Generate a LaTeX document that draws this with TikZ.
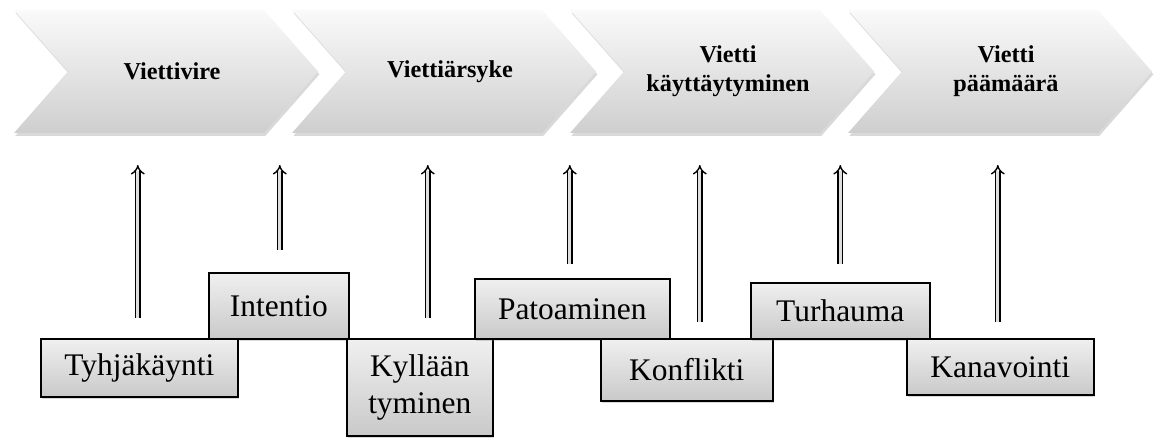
\documentclass[tikz,border=0pt]{standalone}
\usepackage{fontspec}
\setmainfont{Liberation Serif}
\usetikzlibrary{arrows.meta, shadows}

\begin{document}
\begin{tikzpicture}[
  chevron/.style={top color=gray!4, bottom color=gray!38,
    drop shadow={shadow xshift=0.8pt, shadow yshift=-1.6pt, opacity=0.3}},
  stage/.style={font=\fontsize{13.8}{16.5}\selectfont\bfseries, align=center},
  termbox/.style={draw, line width=0.9pt, top color=gray!12, bottom color=gray!42,
    font=\fontsize{17.9}{21}\selectfont, align=center, inner sep=0pt, anchor=north west,
    drop shadow={shadow xshift=0.8pt, shadow yshift=-1.4pt, opacity=0.3}},
  uparrow/.style={line width=0.8pt, double=gray!25, double distance=1.9pt, -{Implies}}
]
\useasboundingbox (0,0) rectangle (23.12,8.74);

% process chevrons along the top
\foreach \x/\txt [count=\n] in {0.28/Viettivire, 5.84/Viettiärsyke,
    11.40/{Vietti\\käyttäytyminen}, 16.96/{Vietti\\päämäärä}} {
  \path[chevron] (\x,8.54) -- ++(5,0) -- ++(1.08,-1.23) -- ++(-1.08,-1.23)
    -- ++(-5,0) -- ++(1.08,1.23) -- cycle;
  \node[stage] (ch\n) at (\x+3.16,7.31) {\txt};
}
\coordinate (band) at (0,6.08);

% terms below
\node[termbox, minimum width=2.80cm, minimum height=1.32cm] (intentio) at (4.16,3.30) {Intentio};
\node[termbox, minimum width=3.94cm, minimum height=1.16cm] (tyhja) at (0.80,1.98) {Tyhjäkäynti};
\node[termbox, minimum width=2.92cm, minimum height=1.94cm] (kyll) at (6.92,1.98) {Kyllään\\tyminen};
\node[termbox, minimum width=3.90cm, minimum height=1.20cm] (pato) at (9.48,3.18) {Patoaminen};
\node[termbox, minimum width=3.44cm, minimum height=1.24cm] (konf) at (12.00,1.98) {Konflikti};
\node[termbox, minimum width=3.58cm, minimum height=1.12cm] (turh) at (15.00,3.10) {Turhauma};
\node[termbox, minimum width=3.74cm, minimum height=1.12cm] (kana) at (18.12,1.98) {Kanavointi};

% arrows up to the chevrons
\foreach \b/\dx/\gap in {tyhja/-0.03/0.40, intentio/0.02/0.44, kyll/0.16/0.40,
    pato/-0.05/0.28, konf/0.26/0.32, turh/0/0.36, kana/-0.05/0.32} {
  \coordinate (foot) at ([xshift=\dx cm]\b.north);
  \draw[uparrow, shorten <=\gap cm, shorten >=0.64cm] (foot) -- (foot |- band);
}
\end{tikzpicture}
\end{document}
